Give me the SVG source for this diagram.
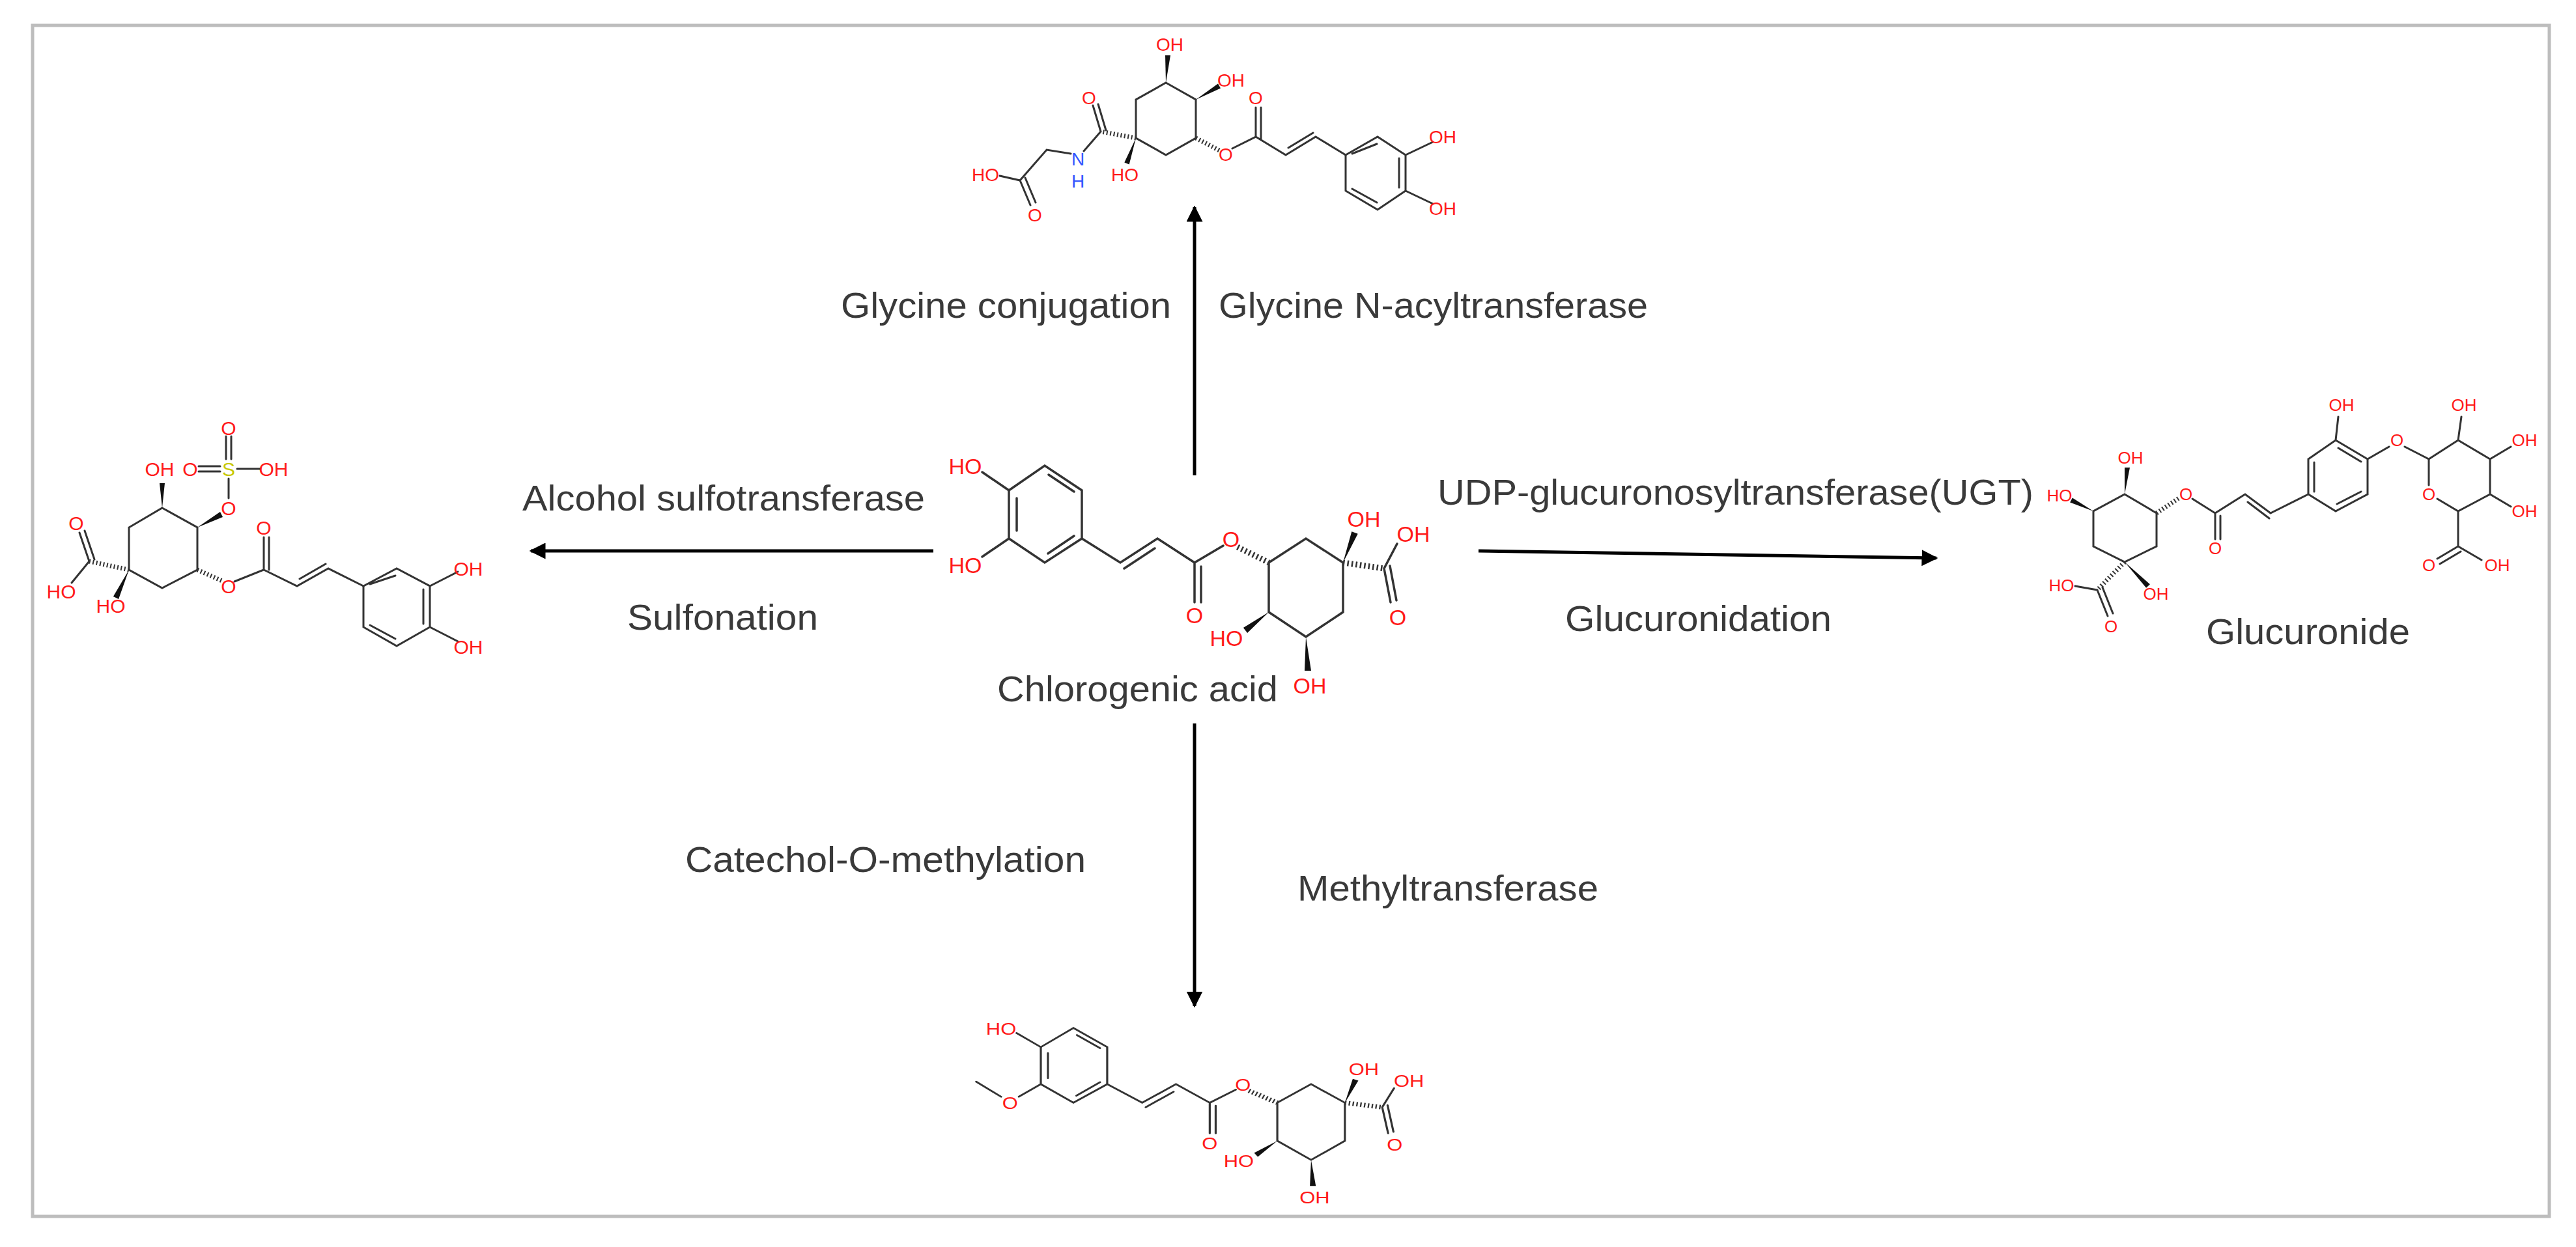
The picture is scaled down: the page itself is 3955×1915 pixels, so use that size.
<svg xmlns="http://www.w3.org/2000/svg" width="3955" height="1915" viewBox="0 0 3955 1915">
<style>
.b{stroke:#333;stroke-width:3.5;fill:none;stroke-linecap:round}
.bs{stroke:#333;stroke-width:3;fill:none;stroke-linecap:round}
.w{fill:#111;stroke:none}
.h{stroke:#333;stroke-width:9;stroke-dasharray:2.5 4;fill:none}
.hs{stroke:#333;stroke-width:7;stroke-dasharray:2 3.5;fill:none}
.a{font-family:"Liberation Sans",Arial,sans-serif;fill:#ff1a1a;text-anchor:middle;dominant-baseline:central}
.a34{font-size:34px}.a28{font-size:28px}.a30{font-size:30px}.a26{font-size:26px}
.n{fill:#3355ff}.s{fill:#c8c800}
.t{font-family:"Liberation Sans",Arial,sans-serif;font-size:56px;fill:#3a3a3a}
.arr{stroke:#000;stroke-width:5;fill:none}
</style>
<defs>
<marker id="ah" viewBox="0 0 10 10" refX="9" refY="5" markerWidth="5" markerHeight="5" orient="auto" markerUnits="strokeWidth">
<path d="M0,0 L10,5 L0,10 Z" fill="#000"/>
</marker>
<g id="core">
<path class="b" d="M1549,753 L1604,715 L1661,753 L1661,827 L1604,864 L1549,827 Z"/>
<path class="b" d="M1610,729 L1649,755 M1649,823 L1609,850 M1561,765 L1561,815"/>
<path class="b" d="M1549,753 L1508,725 M1661,827 L1720,864 L1777,827 L1834,864 L1834,925 M1844,870 L1844,925 M1834,864 L1878,838 M1726,873 L1773,842"/>
<path class="h" d="M1900,840 L1948,864"/>
<path class="b" d="M1948,864 L2005,827 L2062,864 L2062,940 L2005,978 L1948,940 Z"/>
<polygon class="w" points="2062,864 2084.7,819.8 2075.3,816.2"/>
<polygon class="w" points="1948,940 1908.9,964.1 1915.1,971.9"/>
<polygon class="w" points="2005,978 2003,1030 2013,1030"/>
<path class="h" d="M2062,864 L2125,873"/>
<path class="b" d="M2125,873 L2145,835 M2125,873 L2135,925 M2134,869 L2144,922"/>
<text class="a a34" x="1482" y="716">HO</text>
<text class="a a34" x="1834" y="945">O</text>
<text class="a a34" x="1890" y="828">O</text>
<text class="a a34" x="2094" y="797">OH</text>
<text class="a a34" x="2170" y="820">OH</text>
<text class="a a34" x="2146" y="948">O</text>
<text class="a a34" x="1883" y="980">HO</text>
<text class="a a34" x="2011" y="1053">OH</text>
</g>
</defs>
<rect width="3955" height="1915" fill="#fff"/>
<rect x="50" y="39" width="3864" height="1829" fill="#fff" stroke="#bdbdbd" stroke-width="5"/>

<g id="chlorogenic-acid">
<use href="#core"/>
<path class="b" d="M1549,827 L1508,855"/>
<text class="a a34" x="1482" y="868">HO</text>
<text class="t" x="1531" y="1077" textLength="431" lengthAdjust="spacingAndGlyphs">Chlorogenic acid</text>
</g>

<g id="methylated">
<g transform="translate(1598,1608) scale(0.91,0.77) translate(-1549,-753)">
<use href="#core"/>
<path class="b" d="M1549,827 L1512,852 M1482,852 L1440,822"/>
<text class="a a34" x="1497" y="864">O</text>
</g>
</g>

<g id="glycine-conjugate">
<path class="bs" d="M1790,127 L1836,153 L1836,212 L1790,238 L1744,212 L1744,153 Z"/>
<polygon class="w" points="1790,127 1797,85 1789,85"/>
<polygon class="w" points="1836,153 1874,135.5 1870,128.5"/>
<polygon class="w" points="1744,212 1726.3,249.4 1733.7,252.6"/>
<path class="hs" d="M1836,212 L1872,231"/>
<path class="hs" d="M1744,212 L1690,202"/>
<path class="bs" d="M1892,228 L1928,210 L1928,165 M1936,213 L1936,165 M1928,210 L1974,238 L2020,210 L2066,238 M1978,227 L2016,204"/>
<path class="bs" d="M2066,238 L2115,210 L2158,238 L2158,293 L2115,322 L2066,293 Z M2076,236 L2114,221 M2148,243 L2148,288 M2114,311 L2076,290 M2158,238 L2200,218 M2158,293 L2200,313"/>
<path class="bs" d="M1690,202 L1678,162 M1698,200 L1686,160 M1690,202 L1664,232 M1644,236 L1607,230 L1566,277 L1535,270 M1566,277 L1582,315 M1574,273 L1590,311"/>
<text class="a a28" x="1796" y="68">OH</text>
<text class="a a28" x="1890" y="123">OH</text>
<text class="a a28" x="1882" y="237">O</text>
<text class="a a28" x="1928" y="150">O</text>
<text class="a a28" x="2215" y="210">OH</text>
<text class="a a28" x="2215" y="320">OH</text>
<text class="a a28" x="1672" y="150">O</text>
<text class="a a28 n" x="1655" y="244">N</text>
<text class="a a28 n" x="1655" y="278">H</text>
<text class="a a28" x="1513" y="268">HO</text>
<text class="a a28" x="1589" y="330">O</text>
<text class="a a28" x="1727" y="268">HO</text>
</g>

<g id="sulfate">
<path class="bs" d="M249,780 L303,810 L303,875 L249,903 L198,875 L198,810 Z"/>
<polygon class="w" points="249,780 245,742 253,742"/>
<polygon class="w" points="303,810 342,794 338,786"/>
<polygon class="w" points="198,875 173.9,916.1 182.1,919.9"/>
<path class="hs" d="M198,875 L137,862"/>
<path class="hs" d="M303,875 L343,893"/>
<path class="bs" d="M305,716 L338,716 M305,724 L338,724 M364,720 L400,720 M347,705 L347,670 M355,705 L355,670 M351,735 L351,765"/>
<path class="bs" d="M137,862 L122,818 M145,859 L130,815 M137,862 L110,895"/>
<path class="bs" d="M360,893 L405,875 L405,825 M413,875 L413,825 M405,875 L456,900 L504,873 L558,900 M460,889 L500,866"/>
<path class="bs" d="M558,900 L609,873 L660,900 L660,963 L609,992 L558,963 Z M568,897 L607,884 M650,905 L650,958 M607,981 L568,960 M660,900 L703,878 M660,963 L703,985"/>
<text class="a a30" x="245" y="720">OH</text>
<text class="a a30" x="292" y="720">O</text>
<text class="a a30 s" x="351" y="720">S</text>
<text class="a a30" x="420" y="720">OH</text>
<text class="a a30" x="351" y="657">O</text>
<text class="a a30" x="351" y="780">O</text>
<text class="a a30" x="117" y="803">O</text>
<text class="a a30" x="94" y="908">HO</text>
<text class="a a30" x="170" y="930">HO</text>
<text class="a a30" x="351" y="900">O</text>
<text class="a a30" x="405" y="810">O</text>
<text class="a a30" x="719" y="873">OH</text>
<text class="a a30" x="719" y="993">OH</text>
</g>

<g id="glucuronide">
<path class="bs" d="M3262,759 L3311,788 L3311,839 L3262,863 L3214,839 L3214,785 Z"/>
<polygon class="w" points="3262,759 3270,718 3262,718"/>
<polygon class="w" points="3214,785 3181.8,764.4 3178.2,771.6"/>
<polygon class="w" points="3262,863 3295.1,902.8 3300.9,897.2"/>
<path class="hs" d="M3311,788 L3345,765"/>
<path class="hs" d="M3262,863 L3220,906"/>
<path class="bs" d="M3366,766 L3401,788 L3401,828 M3409,792 L3409,828 M3401,788 L3447,759 L3486,788 L3544,759 M3451,771 L3484,796"/>
<path class="bs" d="M3544,759 L3544,705 L3586,676 L3635,705 L3635,759 L3586,785 Z M3553,755 L3553,710 M3590,688 L3625,709 M3625,755 L3588,774 M3586,676 L3590,640 M3635,705 L3668,686 M3692,686 L3729,705"/>
<path class="bs" d="M3729,705 L3774,676 L3823,705 L3823,759 L3774,785 L3742,766 M3729,705 L3729,745 M3774,676 L3779,640 M3823,705 L3855,686 M3823,759 L3855,778 M3774,785 L3774,839 L3742,858 M3778,847 L3746,866 M3774,839 L3810,860"/>
<path class="bs" d="M3220,906 L3186,900 M3220,906 L3236,946 M3228,902 L3244,942"/>
<text class="a a26" x="3271" y="703">OH</text>
<text class="a a26" x="3162" y="761">HO</text>
<text class="a a26" x="3356" y="759">O</text>
<text class="a a26" x="3401" y="842">O</text>
<text class="a a26" x="3595" y="622">OH</text>
<text class="a a26" x="3680" y="676">O</text>
<text class="a a26" x="3729" y="759">O</text>
<text class="a a26" x="3783" y="622">OH</text>
<text class="a a26" x="3876" y="676">OH</text>
<text class="a a26" x="3876" y="785">OH</text>
<text class="a a26" x="3729" y="868">O</text>
<text class="a a26" x="3834" y="868">OH</text>
<text class="a a26" x="3165" y="899">HO</text>
<text class="a a26" x="3241" y="962">O</text>
<text class="a a26" x="3310" y="912">OH</text>
<text class="t" x="3387" y="989" textLength="313" lengthAdjust="spacingAndGlyphs">Glucuronide</text>
</g>

<g id="connectors">
<line class="arr" x1="1834" y1="730" x2="1834" y2="318" marker-end="url(#ah)"/>
<line class="arr" x1="1834" y1="1111" x2="1834" y2="1545" marker-end="url(#ah)"/>
<line class="arr" x1="1433" y1="846" x2="815" y2="846" marker-end="url(#ah)"/>
<line class="arr" x1="2270" y1="846" x2="2973" y2="857" marker-end="url(#ah)"/>
</g>

<g id="labels">
<text class="t" x="1291" y="488" textLength="507" lengthAdjust="spacingAndGlyphs">Glycine conjugation</text>
<text class="t" x="1871" y="488" textLength="659" lengthAdjust="spacingAndGlyphs">Glycine N-acyltransferase</text>
<text class="t" x="802" y="784" textLength="618" lengthAdjust="spacingAndGlyphs">Alcohol sulfotransferase</text>
<text class="t" x="963" y="967" textLength="293" lengthAdjust="spacingAndGlyphs">Sulfonation</text>
<text class="t" x="2207" y="775" textLength="915" lengthAdjust="spacingAndGlyphs">UDP-glucuronosyltransferase(UGT)</text>
<text class="t" x="2403" y="969" textLength="409" lengthAdjust="spacingAndGlyphs">Glucuronidation</text>
<text class="t" x="1052" y="1339" textLength="615" lengthAdjust="spacingAndGlyphs">Catechol-O-methylation</text>
<text class="t" x="1992" y="1383" textLength="462" lengthAdjust="spacingAndGlyphs">Methyltransferase</text>
</g>
</svg>
